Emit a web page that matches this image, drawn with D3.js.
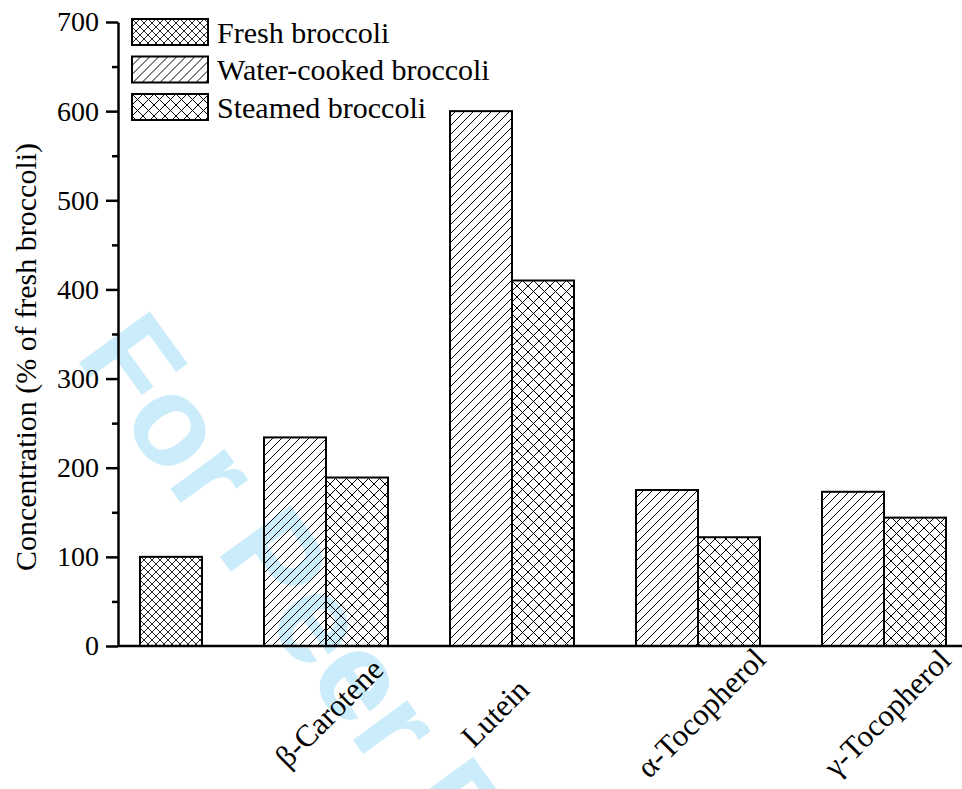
<!DOCTYPE html>
<html>
<head>
<meta charset="utf-8">
<script src="https://cdn.jsdelivr.net/npm/d3@7"></script>
<style>
  html, body { margin: 0; padding: 0; background: #fff; }
  svg { display: block; }
  text { font-family: "Liberation Serif", "Times New Roman", serif; fill: #000; }
</style>
</head>
<body>
<svg id="chart" width="962" height="789"></svg>
<script>
// ---- data -------------------------------------------------------------
const categories  = ["", "β-Carotene", "Lutein", "α-Tocopherol", "γ-Tocopherol"];
const freshValues = [100, null, null, null, null];
const waterValues = [null, 234, 600, 175, 173];
const steamValues = [null, 189, 410, 122, 144];
const seriesNames = ["Fresh broccoli", "Water-cooked broccoli", "Steamed broccoli"];
const yTicks      = [0, 100, 200, 300, 400, 500, 600, 700];
const yMinorTicks = [50, 150, 250, 350, 450, 550, 650];
const yLabel      = "Concentration (% of fresh broccoli)";
const watermark   = "For Peer Review";

// ---- layout -----------------------------------------------------------
const W = 962, H = 789;
const svg = d3.select("#chart");

const y = d3.scaleLinear().domain([0, 700]).range([646, 22]);
const x0 = d3.scaleBand().domain(categories).range([78, 946]).paddingInner(1 / 3);
// two bar columns per category: left = water-cooked, right = fresh / steamed
const x1 = d3.scaleBand().domain([0, 1]).range([0, x0.bandwidth()]);

const series = [
  { name: seriesNames[0], values: freshValues, col: 1, pat: "pat-fresh" },
  { name: seriesNames[1], values: waterValues, col: 0, pat: "pat-water" },
  { name: seriesNames[2], values: steamValues, col: 1, pat: "pat-steam" }
];

// ---- hatch patterns ---------------------------------------------------
const defs = svg.append("defs");
// "/" strokes through one tile, with the corner stubs so tiles join cleanly
function slashPath(s) {
  return `M0,${s}L${s},0M-1,1L1,-1M${s - 1},${s + 1}L${s + 1},${s - 1}`;
}
function backslashPath(s) {
  return `M0,0L${s},${s}M-1,${s - 1}L1,${s + 1}M${s - 1},-1L${s + 1},1`;
}
function hatch(id, s, w, cross) {
  const p = defs.append("pattern").attr("id", id)
    .attr("patternUnits", "userSpaceOnUse").attr("width", s).attr("height", s);
  p.append("path")
    .attr("d", slashPath(s) + (cross ? backslashPath(s) : ""))
    .attr("stroke", "#000").attr("stroke-width", w).attr("fill", "none");
}
hatch("pat-fresh", 8, 0.85, true);
hatch("pat-water", 9, 1, false);
hatch("pat-steam", 11, 1, true);

// ---- watermark (behind the plot) ---------------------------------------
svg.append("text")
  .attr("transform", "translate(74,356) rotate(54)")
  .style("font-family", "'Liberation Sans', Arial, sans-serif")
  .style("font-weight", "bold")
  .style("font-size", "127px")
  .style("fill", "#cbecfa")
  .text(watermark);

// ---- bars ---------------------------------------------------------------
const bars = [];
series.forEach(s => s.values.forEach((v, i) => {
  if (v != null) bars.push({ cat: categories[i], value: v, col: s.col, pat: s.pat });
}));

svg.append("g").selectAll("rect").data(bars).join("rect")
  .attr("x", d => x0(d.cat) + x1(d.col))
  .attr("width", x1.bandwidth())
  .attr("y", d => y(d.value))
  .attr("height", d => y(0) - y(d.value))
  .attr("fill", d => `url(#${d.pat})`)
  .attr("stroke", "#000")
  .attr("stroke-width", 2);

// ---- axes ---------------------------------------------------------------
const axisX = 118;
const gy = svg.append("g").attr("transform", `translate(${axisX},0)`)
  .call(d3.axisLeft(y).tickValues(yTicks).tickSize(12).tickSizeOuter(0).tickPadding(7));
gy.select(".domain").attr("stroke-width", 2.5);
gy.selectAll(".tick line").attr("stroke-width", 2.5);
gy.selectAll(".tick text")
  .style("font-family", "'Liberation Serif', 'Times New Roman', serif")
  .style("font-size", "28px");

const gyMinor = svg.append("g").attr("transform", `translate(${axisX},0)`)
  .call(d3.axisLeft(y).tickValues(yMinorTicks).tickSize(6).tickSizeOuter(0).tickFormat(""));
gyMinor.select(".domain").remove();
gyMinor.selectAll(".tick line").attr("stroke-width", 2.5);

svg.append("line")
  .attr("x1", axisX).attr("x2", W)
  .attr("y1", y(0)).attr("y2", y(0))
  .attr("stroke", "#000").attr("stroke-width", 2.5);

// category labels, rotated 45°
const labelNudge = { "Lutein": -20 };
svg.append("g").selectAll("text").data(categories.filter(c => c !== "")).join("text")
  .attr("transform", d => `translate(${x0(d) + x0.bandwidth() / 2 + 3 + (labelNudge[d] || 0)},713) rotate(-45)`)
  .attr("text-anchor", "middle")
  .attr("dominant-baseline", "central")
  .style("font-size", "31px")
  .text(d => d);

// y-axis title
svg.append("text")
  .attr("transform", "translate(25,357) rotate(-90)")
  .attr("text-anchor", "middle")
  .attr("dominant-baseline", "central")
  .style("font-size", "30px")
  .text(yLabel);

// ---- legend -------------------------------------------------------------
const legend = svg.append("g").attr("transform", "translate(132,19)");
const rows = legend.selectAll("g").data(series).join("g")
  .attr("transform", (d, i) => `translate(0,${i * 37.5})`);
rows.append("rect")
  .attr("width", 76).attr("height", 26)
  .attr("fill", d => `url(#${d.pat})`)
  .attr("stroke", "#000").attr("stroke-width", 2);
rows.append("text")
  .attr("x", 85).attr("y", 13)
  .attr("dominant-baseline", "central")
  .style("font-size", "30px")
  .text(d => d.name);
</script>
</body>
</html>
